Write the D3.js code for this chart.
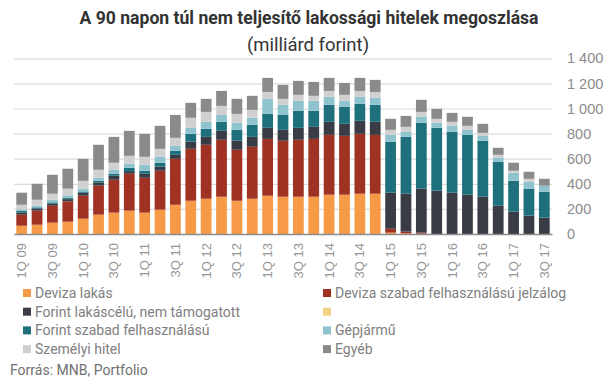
<!DOCTYPE html>
<html>
<head>
<meta charset="utf-8">
<script src="https://cdn.jsdelivr.net/npm/d3@7"></script>
<style>
  body { margin: 0; background: #fff; }
  svg { display: block; font-family: Roboto, "Noto Sans", sans-serif; }
</style>
</head>
<body>
<svg width="605" height="378"></svg>
<script>
// quarters, 1Q 09 .. 3Q 17
var quarters = ['1Q 09','2Q 09','3Q 09','4Q 09','1Q 10','2Q 10','3Q 10','4Q 10',
  '1Q 11','2Q 11','3Q 11','4Q 11','1Q 12','2Q 12','3Q 12','4Q 12',
  '1Q 13','2Q 13','3Q 13','4Q 13','1Q 14','2Q 14','3Q 14','4Q 14',
  '1Q 15','2Q 15','3Q 15','4Q 15','1Q 16','2Q 16','3Q 16','4Q 16',
  '1Q 17','2Q 17','3Q 17'];

// series values (milliárd forint)
var devizaLakas = [66,74,90,98,122,154,170,186,170,194,233,265,281,297,265,281,
  305,297,297,297,313,313,321,321,11,5,2,0,0,0,0,0,0,0,0];
var devizaSzabad = [88,112,135,162,183,231,262,294,278,310,366,414,430,454,406,414,
  453,446,454,461,477,469,477,469,31,14,9,0,0,0,0,0,0,0,0];
var forintLakas = [18,18,19,18,24,26,32,21,32,32,32,56,63,71,72,79,
  88,87,95,96,104,96,104,104,287,302,350,345,329,313,297,225,178,146,130];
var ismeretlen = [0,0,0,0,0,0,0,0,0,0,0,0,0,0,0,0,
  0,0,0,0,0,0,0,0,0,0,0,0,0,0,0,0,0,0,0];
var forintSzabad = [11,8,8,8,10,13,16,27,24,32,32,63,64,72,87,96,
  111,119,135,127,135,135,135,135,406,453,525,501,485,477,446,350,246,215,207];
var gepjarmu = [13,13,21,22,22,24,34,32,48,47,40,48,56,55,56,56,
  120,80,80,80,64,48,56,56,55,40,48,40,48,40,39,32,64,55,48];
var szemelyi = [37,48,48,53,63,64,54,63,63,64,63,80,79,72,71,63,
  55,48,48,40,47,48,47,47,40,40,39,32,32,32,24,24,16,24,0];
var egyeb = [96,127,151,159,175,199,206,199,183,183,183,119,104,119,120,112,
  112,111,111,111,104,95,104,96,88,87,96,79,71,72,72,56,64,56,55];

var seriesNames = ['Deviza lakás', 'Deviza szabad felhasználású jelzálog',
  'Forint lakáscélú, nem támogatott', '', 'Forint szabad felhasználású',
  'Gépjármű', 'Személyi hitel', 'Egyéb'];
var seriesValues = [devizaLakas, devizaSzabad, forintLakas, ismeretlen,
  forintSzabad, gepjarmu, szemelyi, egyeb];
var colors = ['#f79a48', '#a03223', '#393c45', '#f4d284', '#1f707d',
  '#8fc4cf', '#d0d0d0', '#8a8a8a'];
var yTicks = [0, 200, 400, 600, 800, 1000, 1200, 1400];

var svg = d3.select('svg');

// build table for d3.stack
var keys = d3.range(seriesValues.length);
var table = quarters.map(function(q, i) {
  var row = {q: q};
  keys.forEach(function(k) { row[k] = seriesValues[k][i]; });
  return row;
});
var stacked = d3.stack().keys(keys)(table);

var plot = {l: 14, r: 552, t: 58.3, b: 234};

var x = d3.scaleBand()
  .domain(quarters)
  .range([plot.l, plot.r])
  .paddingInner(0.3)
  .paddingOuter(0.15);

var y = d3.scaleLinear()
  .domain([0, 1400])
  .range([plot.b, plot.t]);

// grid
var yAxis = d3.axisRight(y)
  .tickValues(yTicks)
  .tickSize(-(plot.r - plot.l))
  .tickPadding(15)
  .tickFormat(function(d) { return d3.format(',')(d).replace(',', ' '); });

var gy = svg.append('g')
  .attr('class', 'y axis')
  .attr('transform', 'translate(' + plot.r + ',0)')
  .call(yAxis);
gy.select('.domain').remove();
gy.selectAll('line').attr('stroke', '#dcdcdc').attr('stroke-width', 1.2);
gy.selectAll('text')
  .attr('fill', '#8c8c8c')
  .style('font-size', '14.5px');

// bars
svg.append('g').selectAll('g')
  .data(stacked)
  .enter()
  .append('g')
  .attr('fill', function(d) { return colors[d.key]; })
  .selectAll('rect')
  .data(function(d) { return d; })
  .enter()
  .append('rect')
  .attr('x', function(d) { return x(d.data.q); })
  .attr('width', x.bandwidth())
  .attr('y', function(d) { return y(d[1]); })
  .attr('height', function(d) { return y(d[0]) - y(d[1]); });

// x axis
var xAxis = d3.axisBottom(x)
  .tickValues(quarters.filter(function(d, i) { return i % 2 === 0; }))
  .tickSize(0)
  .tickPadding(0);

var gx = svg.append('g')
  .attr('class', 'x axis')
  .attr('transform', 'translate(0,' + plot.b + ')')
  .call(xAxis);
gx.select('.domain')
  .attr('stroke', '#8c8c8c')
  .attr('stroke-width', 1.5);
gx.selectAll('text')
  .attr('fill', '#969696')
  .style('font-size', '13px')
  .attr('text-anchor', 'end')
  .attr('transform', 'rotate(-90)')
  .attr('x', -9)
  .attr('y', 0)
  .attr('dy', '0.35em');

// title
svg.append('text')
  .attr('x', 309)
  .attr('y', 24)
  .attr('text-anchor', 'middle')
  .style('font-size', '17.6px')
  .style('font-weight', 'bold')
  .attr('fill', '#333')
  .text('A 90 napon túl nem teljesítő lakossági hitelek megoszlása');

svg.append('text')
  .attr('x', 308)
  .attr('y', 51)
  .attr('text-anchor', 'middle')
  .style('font-size', '18.5px')
  .attr('fill', '#333')
  .text('(milliárd forint)');

// legend, two columns
var legend = svg.append('g').selectAll('g')
  .data(seriesNames)
  .enter()
  .append('g')
  .attr('transform', function(d, i) {
    var tx = (i % 2) * 300 + 23;
    var ty = Math.floor(i / 2) * 18.7 + 293;
    return 'translate(' + tx + ',' + ty + ')';
  });

legend.append('rect')
  .attr('x', 0)
  .attr('y', -4)
  .attr('width', 8)
  .attr('height', 8)
  .attr('fill', function(d, i) { return colors[i]; });

legend.append('text')
  .attr('x', 12)
  .attr('y', 0)
  .attr('dy', '0.35em')
  .style('font-size', '14px')
  .attr('fill', '#808080')
  .text(function(d) { return d; });

svg.append('text')
  .attr('x', 10)
  .attr('y', 375)
  .style('font-size', '14px')
  .attr('fill', '#707070')
  .text('Forrás: MNB, Portfolio');
</script>
</body>
</html>
